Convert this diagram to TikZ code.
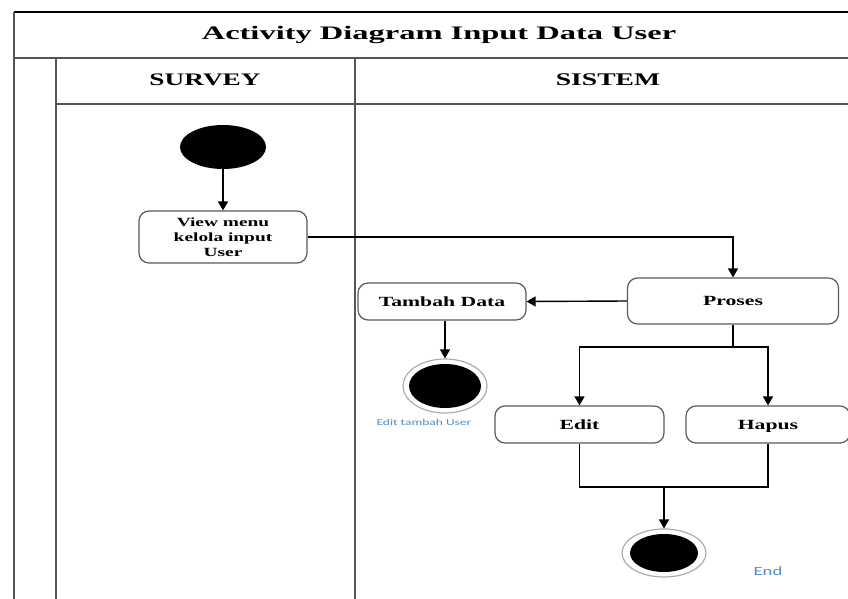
\documentclass[tikz,border=0pt]{standalone}
\usepackage{fontspec}
\setmainfont{Liberation Serif}
\newfontfamily\wserif[FakeStretch=1.55]{Liberation Serif}
\newfontfamily\wtitle[FakeStretch=1.7]{Liberation Serif}
\newfontfamily\wsans[FakeStretch=1.5]{Carlito}
\usetikzlibrary{shapes.geometric,arrows.meta}
\definecolor{frame}{RGB}{85,85,85}
\definecolor{boxline}{RGB}{90,90,90}
\definecolor{lbl}{RGB}{80,140,195}
\tikzset{
  x=1pt,y=-1pt,
  frameline/.style={draw=frame,line width=2pt},
  act/.style={draw=boxline,line width=1.2pt,rounded corners=10pt,fill=white,
    inner sep=0pt,align=center,font=\wserif\bfseries\fontsize{14}{15}\selectfont},
  act1/.style={act,text height=12.3pt,text depth=3pt},
  conn/.style={draw=black,line width=1.4pt},
  arr/.style={conn,-{Triangle[length=9pt,width=10pt]}},
  startnode/.style={ellipse,fill=black,inner sep=0pt,minimum width=86pt,minimum height=44pt},
  endnode/.style={ellipse,draw=gray!65,line width=1.2pt,inner sep=0pt,minimum width=84pt},
  note/.style={text=lbl,inner sep=0pt,font=\wsans}
}
\begin{document}
\begin{tikzpicture}
\useasboundingbox (0,0) rectangle (848,599);
% frame
\draw[black,line width=1.5pt] (14,12) -- (848,12);
\draw[frameline] (14,12) -- (14,599);
\draw[frameline] (14,58) -- (848,58);
\draw[frameline] (56,58) -- (56,599);
\draw[frameline] (56,104) -- (848,104);
\draw[frameline] (355,58) -- (355,599);
\node (title) at (439,35) {\wtitle\bfseries\fontsize{19.1}{21}\selectfont Activity Diagram Input Data User};
\node (survey) at (205,80) {\wserif\bfseries\fontsize{17.6}{19}\selectfont SURVEY};
\node (sistem) at (608,80) {\wserif\bfseries\fontsize{17.8}{19}\selectfont SISTEM};
% nodes
\node[startnode] (start) at (223,147) {};
\node[act,minimum width=168pt,minimum height=52pt,
  font=\wserif\bfseries\fontsize{12.5}{15}\selectfont] (view) at (223,237) {View menu\\kelola input\\User};
\node[act1,minimum width=211pt,minimum height=46pt] (proses) at (733,301) {Proses};
\node[act1,minimum width=168pt,minimum height=37pt] (tambah) at (442,301.5) {Tambah Data};
\node[endnode,minimum height=54pt,
  path picture={\fill[black] (path picture bounding box.center) ellipse (36pt and 22pt);}] (end1) at (445,386) {};
\node[note,font=\wsans\fontsize{9}{10}\selectfont] (lbl1) at (424,422) {Edit tambah User};
\node[act1,minimum width=169pt,minimum height=37pt] (edit) at (579.5,424.5) {Edit};
\node[act1,minimum width=164pt,minimum height=37pt] (hapus) at (768,424.5) {Hapus};
\node[endnode,minimum height=48pt,
  path picture={\fill[black] (path picture bounding box.center) ellipse (34pt and 19pt);}] (end2) at (664,553) {};
\node[note,font=\wsans\fontsize{12.5}{13}\selectfont] (lbl2) at (768,571) {End};
% connectors
\draw[arr] (start) -- (view);
\draw[arr] (view.east) -| (proses.north);
\draw[arr] (proses.west) -- (tambah.east);
\draw[arr] (tambah.south -| end1.north) -- (end1.north);
\coordinate (fk) at (733,347);
\draw[conn] (proses.south) -- (fk);
\draw[arr] (fk) -| (edit.north);
\draw[arr] (fk) -| (hapus.north);
\coordinate (jn) at (664,487);
\draw[conn] (edit.south) |- (jn);
\draw[conn] (hapus.south) |- (jn);
\draw[arr] (jn) -- (end2.north);
\end{tikzpicture}
\end{document}
